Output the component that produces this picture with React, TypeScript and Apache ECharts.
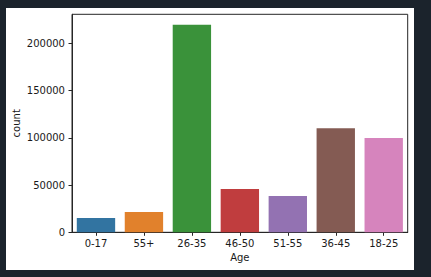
import React, { useEffect, useRef } from "react";
import * as echarts from "echarts";

const categories = ["0-17", "55+", "26-35", "46-50", "51-55", "36-45", "18-25"];
const counts = [15102, 21504, 219587, 45701, 38501, 110013, 99660];
const barColors = ["#3274a1", "#e1812c", "#3a923a", "#c03d3e", "#9372b2", "#845b53", "#d684bd"];
const yTicks = [0, 50000, 100000, 150000, 200000];
const yMax = 230566;

export default function App() {
  const ref = useRef<HTMLDivElement>(null);
  useEffect(() => {
    const chart = echarts.init(ref.current!, null, { renderer: "svg" });
    const font = "DejaVu Sans";
    const txt = "#1a1a1a";
    chart.setOption({
      animation: false,
      backgroundColor: "#ffffff",
      textStyle: { fontFamily: font },
      grid: {
        left: 66,
        top: 6.3,
        right: 6.3,
        bottom: 37.7,
        show: true,
        borderColor: "#262626",
        borderWidth: 1,
        containLabel: false,
        outerBoundsMode: "none",
      },
      xAxis: {
        type: "category",
        data: categories,
        name: "Age",
        nameLocation: "middle",
        nameGap: 20,
        nameMoveOverlap: false,
        nameTextStyle: { fontFamily: font, fontSize: 10, color: txt },
        axisLine: { show: true, lineStyle: { color: "#262626", width: 1 } },
        axisTick: { show: true, alignWithLabel: true, length: 3.5, lineStyle: { color: "#262626" } },
        axisLabel: { fontFamily: font, fontSize: 10, color: txt, margin: 6 },
        splitLine: { show: false },
      },
      yAxis: {
        type: "value",
        min: 0,
        max: yMax,
        name: "count",
        nameLocation: "middle",
        nameGap: 51,
        nameMoveOverlap: false,
        nameTextStyle: { fontFamily: font, fontSize: 10, color: txt },
        axisLine: { show: true, lineStyle: { color: "#262626", width: 1 } },
        axisTick: { show: true, length: 3.5, lineStyle: { color: "#262626" }, customValues: yTicks },
        axisLabel: {
          fontFamily: font,
          fontSize: 10,
          color: txt,
          margin: 7,
          customValues: yTicks,
          formatter: (v: number) => String(v),
        },
        splitLine: { show: false },
      },
      series: [
        {
          type: "bar",
          barCategoryGap: "20%",
          data: counts.map((v, i) => ({ value: v, itemStyle: { color: barColors[i] } })),
        },
      ],
    });
    return () => chart.dispose();
  }, []);
  return (
    <div style={{ position: "fixed", left: 0, top: 0, width: 431, height: 277, background: "#1b232c" }}>
      <div ref={ref} style={{ position: "absolute", left: 6, top: 8, width: 408, height: 262 }} />
    </div>
  );
}
